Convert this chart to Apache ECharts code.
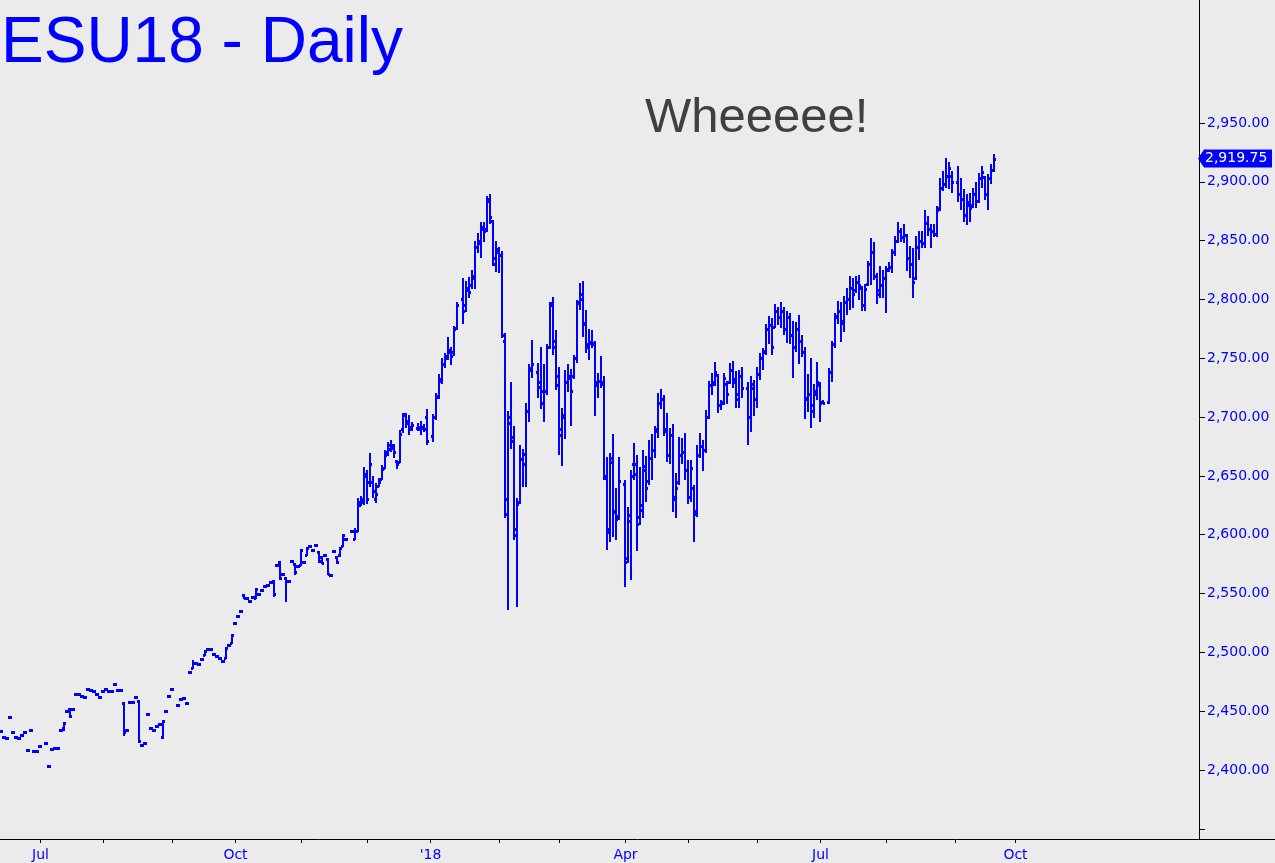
<!DOCTYPE html>
<html>
<head>
<meta charset="utf-8">
<title>ESU18 - Daily</title>
<script src="https://cdn.jsdelivr.net/npm/echarts@6/dist/echarts.min.js"></script>
<style>
  html, body { margin: 0; padding: 0; background: #ebebeb; }
  #chart { width: 1275px; height: 863px; }
</style>
</head>
<body>
<div id="chart"></div>
<script>
// ---------------- DATA ----------------
const chartTitle = 'ESU18 - Daily';
const annotation = 'Wheeeee!';
const firstDate = '2017-06-14';      // first weekday slot on the axis
const slotCount = 400;               // weekday slots on the axis
const lastTickDate = '2018-10-01';   // last month tick drawn
const quarterNames = { 0: "'18", 3: 'Apr', 6: 'Jul', 9: 'Oct' };
const yTickValues = [2350, 2400, 2450, 2500, 2550, 2600, 2650, 2700, 2750, 2800, 2850, 2900, 2950];
const yLabelValues = [2400, 2450, 2500, 2550, 2600, 2650, 2700, 2750, 2800, 2850, 2900, 2950];

// one entry per weekday from 2017-06-14 (null = no session)
const openPrices = [
2433,2428,2427,2445,2432,2428,2427,2430,2432,2417,
2434,2416,2416,2420,null,2423,2403,2418,2419,2419,
2434,2436,2450,2452,2452,2465,2465,2463,2462,2469,
2468,2467,2465,2462,2467,2469,2467,2467,2473,2468,
2468,2457,2434,2458,2458,2462,2459,2421,2423,2448,
2436,2434,2437,2439,2428,2450,2463,2469,null,2455,
2460,2461,2457,2483,2487,2491,2490,2494,2498,2503,
2503,2499,2497,2495,2493,2495,2506,2508,2525,2531,
2535,2549,2546,2544,2547,2546,2550,2553,2556,2557,
2560,2561,2574,2577,2567,2563,2561,2578,2575,2573,
2574,2577,2583,2590,2587,2591,2585,2581,2583,2579,
2566,2586,2581,2583,2590,2596,null,2603,2596,2603,
2625,2630,2650,2645,2645,2630,2641,2647,2657,2670,
2673,2676,2663,2662,2690,2703,2697,2692,null,2691,
2690,2691,2700,null,2684,2700,2718,2731,2745,2752,
2757,2755,2776,null,2800,2795,2808,2812,2818,2845,
2848,2860,2860,2884,2867,2830,2840,2838,2765,2630,
2695,2683,2605,2628,2664,2660,2705,2742,null,2738,
2730,2722,2722,2760,2797,2765,2735,2685,2700,2730,
2733,2735,2750,2797,2805,2780,2762,2764,2762,2727,
2731,2730,2650,2605,2662,2620,2616,null,2643,2580,
2612,2660,2660,2615,2625,2655,2646,2665,2672,2690,
2712,2715,2688,2668,2685,2630,2645,2668,2670,2655,
2632,2640,2620,2668,2675,2672,2700,2727,2730,2736,
2710,2713,2728,2730,2740,2732,2715,2735,null,2725,
2700,2725,2715,2737,2750,2756,2775,2778,2777,2790,
2785,2790,2775,2785,2770,2760,2775,2765,2755,2716,
2720,2710,2720,2727,2713,null,2713,2738,2762,2786,
2790,2782,2798,2800,2810,2808,2815,2810,2795,2813,
2830,2840,2820,2808,2812,2818,2826,2828,2840,2850,
2858,2853,2855,2835,2830,2818,2845,2850,2848,2865,
2860,2858,2856,2878,2895,2898,2905,2905,null,2900,
2890,2885,2872,2880,2880,2890,2884,2903,2904,2890,2903,2910
];
const highPrices = [
2433,2428,2427,2445,2432,2428,2427,2430,2432,2417,
2434,2416,2416,2420,null,2423,2403,2418,2419,2419,
2434,2440,2450,2452,2452,2465,2465,2463,2462,2469,
2468,2467,2465,2462,2467,2469,2467,2467,2473,2468,
2468,2457,2434,2458,2458,2462,2459,2421,2423,2448,
2436,2434,2437,2439,2442,2450,2463,2469,null,2455,
2460,2461,2457,2483,2493,2491,2490,2494,2501,2503,
2503,2499,2497,2495,2493,2504,2506,2515,2525,2531,
2535,2549,2546,2544,2547,2554,2550,2553,2556,2557,
2560,2561,2574,2577,2567,2563,2561,2578,2575,2573,
2587,2577,2589,2590,2587,2591,2585,2581,2583,2579,
2566,2586,2581,2589,2600,2596,null,2603,2605,2630,
2632,2657,2654,2669,2649,2643,2647,2658,2671,2678,
2680,2676,2663,2688,2703,2703,2701,2695,null,2694,
2696,2693,2706,null,2702,2720,2736,2749,2754,2767,
2759,2777,2797,null,2817,2815,2818,2824,2849,2856,
2865,2865,2887,2889,2867,2849,2844,2840,2771,2704,
2729,2692,2630,2675,2672,2711,2744,2765,null,2745,
2759,2744,2761,2797,2801,2773,2742,2707,2739,2744,
2740,2752,2799,2813,2815,2790,2774,2773,2764,2737,
2751,2734,2665,2669,2685,2639,2665,null,2646,2623,
2654,2677,2667,2657,2671,2666,2680,2685,2692,2720,
2723,2718,2703,2690,2693,2652,2682,2681,2686,2663,
2663,2641,2675,2686,2680,2705,2730,2737,2746,2736,
2714,2737,2730,2745,2747,2738,2739,2742,null,2729,
2734,2731,2742,2754,2758,2778,2785,2783,2795,2793,
2797,2793,2789,2788,2781,2780,2786,2769,2759,2736,
2749,2727,2746,2729,2714,null,2741,2764,2788,2798,
2797,2802,2809,2819,2817,2819,2820,2811,2812,2832,
2851,2848,2822,2828,2824,2828,2831,2842,2853,2865,
2860,2863,2855,2845,2843,2853,2857,2857,2875,2870,
2863,2863,2879,2902,2908,2919,2916,2908,null,2913,
2902,2893,2889,2890,2894,2899,2907,2913,2904,2906,2914,2923
];
const lowPrices = [
2433,2428,2427,2445,2432,2428,2427,2430,2432,2417,
2434,2416,2416,2420,null,2423,2403,2418,2419,2419,
2434,2434,2450,2445,2452,2465,2465,2463,2462,2469,
2468,2467,2465,2462,2467,2469,2467,2467,2473,2468,
2468,2430,2434,2458,2458,2462,2424,2421,2423,2448,
2436,2434,2437,2439,2427,2450,2463,2469,null,2455,
2460,2461,2457,2483,2487,2491,2490,2494,2498,2503,
2503,2499,2497,2495,2493,2495,2506,2508,2525,2531,
2535,2546,2546,2544,2547,2546,2550,2553,2556,2557,
2560,2548,2574,2562,2567,2544,2561,2578,2567,2573,
2574,2577,2583,2590,2587,2591,2577,2576,2583,2567,
2566,2586,2576,2582,2590,2596,null,2603,2596,2603,
2625,2626,2627,2641,2632,2628,2641,2647,2657,2668,
2671,2666,2657,2662,2687,2692,2686,2689,null,2689,
2686,2688,2677,null,2680,2698,2716,2729,2743,2749,
2745,2753,2775,null,2780,2790,2802,2810,2810,2840,
2836,2850,2858,2865,2829,2824,2823,2768,2615,2537,
2674,2596,2539,2627,2641,2641,2697,2734,null,2717,
2708,2697,2720,2759,2754,2724,2669,2659,2682,2722,
2693,2733,2747,2792,2769,2755,2749,2760,2702,2717,
2726,2647,2588,2595,2599,2596,2613,null,2556,2577,
2562,2647,2587,2609,2615,2629,2643,2647,2666,2683,
2708,2685,2663,2661,2620,2615,2643,2661,2647,2627,
2629,2595,2616,2666,2655,2670,2699,2720,2727,2704,
2707,2711,2712,2729,2726,2709,2709,2717,null,2677,
2688,2702,2709,2732,2741,2754,2763,2754,2777,2779,
2777,2771,2764,2763,2734,2756,2746,2752,2699,2705,
2692,2700,2715,2697,2712,null,2712,2731,2760,2780,
2765,2773,2788,2792,2794,2806,2800,2791,2791,2812,
2813,2817,2797,2802,2802,2789,2824,2823,2838,2849,
2850,2849,2825,2819,2802,2817,2834,2845,2845,2855,
2845,2854,2854,2876,2893,2896,2895,2891,null,2884,
2877,2867,2864,2867,2879,2879,2883,2896,2885,2877,2899,2909
];
const closePrices = [
2433,2428,2427,2445,2432,2428,2427,2430,2432,2417,
2434,2416,2416,2420,null,2423,2403,2418,2419,2419,
2434,2440,2450,2446,2452,2465,2465,2463,2462,2469,
2468,2467,2465,2462,2467,2469,2467,2467,2473,2468,
2468,2432,2434,2458,2458,2462,2425,2421,2423,2448,
2436,2434,2437,2439,2442,2450,2463,2469,null,2455,
2460,2461,2457,2483,2491,2491,2490,2494,2501,2503,
2503,2499,2497,2495,2493,2504,2506,2515,2525,2531,
2535,2546,2546,2544,2547,2554,2550,2553,2556,2557,
2560,2550,2574,2563,2567,2561,2561,2578,2568,2573,
2587,2577,2589,2590,2587,2591,2578,2576,2583,2567,
2566,2586,2577,2589,2600,2596,null,2603,2603,2628,
2628,2652,2630,2660,2637,2635,2645,2656,2668,2676,
2674,2670,2660,2686,2702,2695,2690,2693,null,2692,
2692,2690,2680,null,2700,2717,2732,2745,2750,2755,
2752,2775,2795,null,2790,2810,2806,2820,2845,2850,
2862,2858,2885,2870,2835,2843,2838,2770,2618,2700,
2680,2600,2626,2664,2669,2705,2740,2745,null,2726,
2712,2722,2760,2795,2760,2727,2690,2702,2730,2735,
2722,2750,2798,2800,2779,2760,2763,2763,2730,2731,
2728,2648,2602,2665,2619,2613,2646,null,2577,2617,
2650,2652,2609,2621,2658,2640,2665,2672,2688,2712,
2715,2690,2668,2685,2632,2640,2668,2670,2655,2632,
2657,2618,2668,2675,2672,2700,2727,2728,2738,2710,
2712,2733,2720,2740,2730,2720,2735,2725,null,2700,
2728,2715,2737,2750,2755,2775,2778,2760,2790,2785,
2790,2775,2785,2770,2760,2775,2765,2755,2715,2720,
2705,2722,2730,2712,2712,null,2738,2762,2785,2790,
2780,2798,2800,2810,2805,2815,2812,2795,2809,2830,
2840,2820,2805,2812,2818,2825,2828,2840,2850,2858,
2853,2855,2835,2830,2815,2845,2850,2848,2865,2860,
2858,2856,2876,2895,2898,2905,2912,2900,null,2890,
2885,2872,2883,2878,2890,2884,2903,2908,2890,2903,2910,2919.75
];

// ---------------- AXIS CATEGORIES (weekday slots) ----------------
const categories = [];
(function () {
  const p = firstDate.split('-').map(Number);
  let t = Date.UTC(p[0], p[1] - 1, p[2]);
  while (categories.length < slotCount) {
    const d = new Date(t);
    const wd = d.getUTCDay();
    if (wd !== 0 && wd !== 6) categories.push(d.toISOString().slice(0, 10));
    t += 86400000;
  }
})();
function isMonthStart(i) {
  return i > 0 && categories[i].slice(5, 7) !== categories[i - 1].slice(5, 7);
}
function monthOf(v) { return Number(v.slice(5, 7)) - 1; }

const barData = [];
for (let i = 0; i < closePrices.length; i++) {
  if (closePrices[i] == null) continue;
  barData.push([i, openPrices[i], highPrices[i], lowPrices[i], closePrices[i]]);
}

// ---------------- CHART ----------------
const BLUE = '#0000ff';
const FONT = 'DejaVu Sans';
const chart = echarts.init(document.getElementById('chart'), null, { renderer: 'canvas' });

function fmtPrice(v) {
  const s = v.toFixed(2);
  const parts = s.split('.');
  return parts[0].replace(/\B(?=(\d{3})+(?!\d))/g, ',') + '.' + parts[1];
}

function renderBar(params, api) {
  const k = api.value(0);
  const pO = api.coord([k, api.value(1)]);
  const pH = api.coord([k, api.value(2)]);
  const pL = api.coord([k, api.value(3)]);
  const pC = api.coord([k, api.value(4)]);
  const x = Math.round(pO[0] - 0.5);
  const yH = Math.round(pH[1]);
  const yL = Math.round(pL[1]);
  const yO = Math.round(pO[1]);
  const yC = Math.round(pC[1]);
  const st = { fill: BLUE };
  return {
    type: 'group',
    children: [
      { type: 'rect', shape: { x: x - 1, y: yH - 1, width: 2, height: Math.max(yL - yH + 2, 2) }, style: st },
      { type: 'rect', shape: { x: x - 2, y: yO - 1, width: 2, height: 3 }, style: st },
      { type: 'rect', shape: { x: x, y: yC - 1, width: 2, height: 3 }, style: st }
    ]
  };
}

const yPerPoint = 647 / 550;
const yMin = 2350, yMax = 3050;
const gridTop = 123 - (yMax - 2950) * yPerPoint;
const gridHeight = (yMax - yMin) * yPerPoint;
const xAxisY = 839;

const option = {
  backgroundColor: '#ebebeb',
  animation: false,
  grid: { left: 0, top: gridTop, width: 1200, height: gridHeight },
  xAxis: {
    type: 'category',
    data: categories,
    boundaryGap: true,
    offset: xAxisY - (gridTop + gridHeight),
    axisLine: { show: false },
    axisTick: {
      show: true, alignWithLabel: true, length: 4,
      lineStyle: { color: '#000', width: 1 },
      interval: function (i, v) { return isMonthStart(i) && v <= lastTickDate; }
    },
    axisLabel: {
      color: BLUE, fontFamily: FONT, fontSize: 14, margin: 9,
      interval: function (i, v) {
        return isMonthStart(i) && v <= lastTickDate && quarterNames[monthOf(v)] !== undefined;
      },
      formatter: function (v) {
        const m = monthOf(v);
        return m === 0 ? "'" + v.slice(2, 4) : quarterNames[m];
      }
    },
    splitLine: { show: false }
  },
  yAxis: {
    type: 'value',
    position: 'right',
    min: yMin, max: yMax, interval: 50,
    axisLine: { show: false },
    axisTick: { show: true, inside: false, length: 5, customValues: yTickValues,
      lineStyle: { color: '#000', width: 1 } },
    axisLabel: {
      color: BLUE, fontFamily: FONT, fontSize: 14, margin: 7,
      customValues: yLabelValues,
      formatter: function (v) { return (v >= 2400 && v <= 2950) ? fmtPrice(v) : ''; }
    },
    splitLine: { show: false }
  },
  series: [{
    type: 'custom',
    renderItem: renderBar,
    encode: { x: 0, y: [1, 2, 3, 4] },
    data: barData,
    clip: false
  }],
  graphic: [
    { type: 'text', id: 'title', left: 1, top: 12,
      style: { text: chartTitle, fill: BLUE, font: '64px "Liberation Sans", Arial, sans-serif' } },
    { type: 'text', id: 'note', left: 645, top: 94,
      style: { text: annotation, fill: '#404040', font: '49px "Liberation Sans", Arial, sans-serif' } },
    { type: 'line', id: 'xline', shape: { x1: 0, y1: xAxisY + 0.5, x2: 1275, y2: xAxisY + 0.5 },
      style: { stroke: '#000', lineWidth: 1 }, z: 10 },
    { type: 'line', id: 'yline', shape: { x1: 1199.5, y1: 0, x2: 1199.5, y2: xAxisY },
      style: { stroke: '#000', lineWidth: 1 }, z: 10 }
  ]
};
chart.setOption(option);

// last price marker on the price axis
const lastClose = closePrices[closePrices.length - 1];
const yLast = chart.convertToPixel({ yAxisIndex: 0 }, lastClose);
chart.setOption({
  graphic: [
    { type: 'polygon', id: 'lastTag', z: 20,
      shape: { points: [[1198, yLast], [1204, yLast - 9], [1272, yLast - 9], [1272, yLast + 9], [1204, yLast + 9]] },
      style: { fill: BLUE } },
    { type: 'text', id: 'lastText', z: 21, x: 1205, y: yLast,
      style: { text: fmtPrice(lastClose), fill: '#fff', font: '14px "DejaVu Sans"', verticalAlign: 'middle', align: 'left' } }
  ]
});
</script>
</body>
</html>
